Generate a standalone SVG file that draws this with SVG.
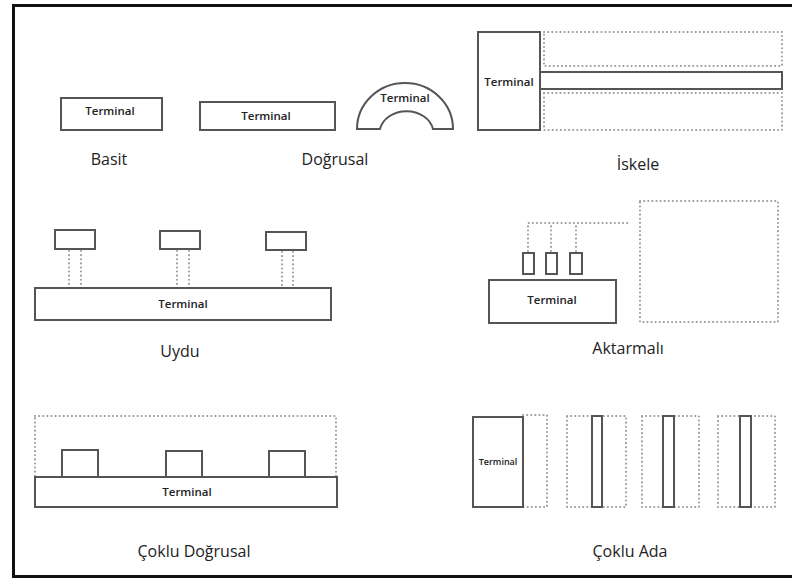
<svg xmlns="http://www.w3.org/2000/svg" width="792" height="579" viewBox="0 0 792 579">
<style>
.s{fill:#fff;stroke:#555;stroke-width:2}
.d{fill:none;stroke:#999;stroke-width:2;stroke-dasharray:0.1 4;stroke-linecap:round}
.t{font-family:"Open Sans","Noto Sans",sans-serif;font-size:11.5px;font-weight:600;fill:#222;text-anchor:middle}
.l{font-family:"Open Sans","Noto Sans",sans-serif;font-size:16px;fill:#222;text-anchor:middle}
</style>
<rect x="0" y="0" width="792" height="579" fill="#fff"/>
<rect x="13.5" y="5.5" width="790" height="571" fill="none" stroke="#111" stroke-width="3"/>
<g id="basit">
<rect class="s" x="61" y="98" width="101" height="32"/>
<text class="t" x="110" y="115">Terminal</text>
<text class="l" x="109" y="165">Basit</text>
</g>
<g id="dogrusal">
<rect class="s" x="200" y="102" width="135" height="28"/>
<text class="t" x="266" y="120">Terminal</text>
<path class="s" d="M357,129 A48,46 0 0 1 453,129 L433,129 A27,22 0 0 0 380,129 Z"/>
<text class="t" x="405" y="102">Terminal</text>
<text class="l" x="335" y="165">Doğrusal</text>
</g>
<g id="iskele">
<rect class="d" x="544" y="32" width="238" height="34"/>
<rect class="d" x="544" y="93" width="238" height="37"/>
<rect class="s" x="478" y="32" width="62" height="98"/>
<rect class="s" x="540" y="72" width="242" height="17"/>
<text class="t" x="509" y="86">Terminal</text>
<text class="l" x="638" y="170">İskele</text>
</g>
<g id="uydu">
<g class="connectors">
<path class="d" d="M69,251V287M81,251V287M177,251V287M189,251V287M282,252V287M293,252V287"/>
</g>
<rect class="s" x="55" y="230" width="40" height="19"/>
<rect class="s" x="160" y="231" width="40" height="18"/>
<rect class="s" x="266" y="232" width="40" height="18"/>
<rect class="s" x="35" y="288" width="296" height="32"/>
<text class="t" x="183" y="308">Terminal</text>
<text class="l" x="180" y="357">Uydu</text>
</g>
<g id="aktarmali">
<g class="connectors">
<path class="d" d="M528,251V223H630M551,251V223M576,251V223"/>
</g>
<rect class="d" x="640" y="201" width="138" height="121"/>
<rect class="s" x="523" y="253" width="11" height="21"/>
<rect class="s" x="546" y="253" width="11" height="21"/>
<rect class="s" x="570" y="253" width="12" height="21"/>
<rect class="s" x="489" y="280" width="127" height="43"/>
<text class="t" x="552" y="304">Terminal</text>
<text class="l" x="628" y="354">Aktarmalı</text>
</g>
<g id="coklu-dogrusal">
<rect class="d" x="35" y="416" width="301" height="61"/>
<rect class="s" x="62" y="450" width="36" height="27"/>
<rect class="s" x="166" y="451" width="36" height="26"/>
<rect class="s" x="269" y="451" width="36" height="26"/>
<rect class="s" x="35" y="477" width="302" height="30"/>
<text class="t" x="187" y="496">Terminal</text>
<text class="l" x="194" y="557">Çoklu Doğrusal</text>
</g>
<g id="coklu-ada">
<rect class="d" x="523" y="415" width="24" height="92"/>
<rect class="s" x="473" y="417" width="50" height="90"/>
<text class="t" x="498" y="465" style="font-size:9px">Terminal</text>
<rect class="d" x="567" y="416" width="59" height="91"/>
<rect class="s" x="592" y="416" width="10" height="91"/>
<rect class="d" x="642" y="416" width="57" height="91"/>
<rect class="s" x="663" y="416" width="11" height="91"/>
<rect class="d" x="718" y="416" width="57" height="91"/>
<rect class="s" x="740" y="416" width="11" height="91"/>
<text class="l" x="630" y="557">Çoklu Ada</text>
</g>
</svg>
